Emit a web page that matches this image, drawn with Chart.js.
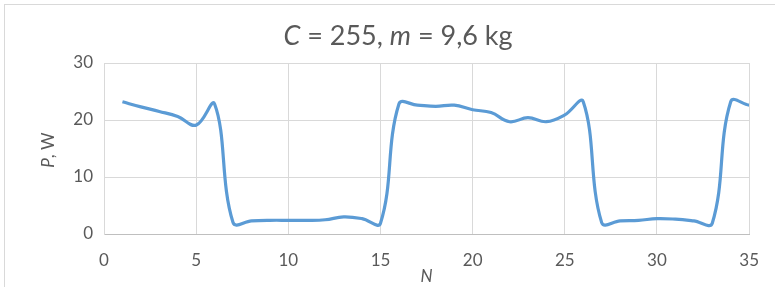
<!DOCTYPE html>
<html>
<head>
<meta charset="utf-8">
<script src="https://cdn.jsdelivr.net/npm/chart.js@4.4.0/dist/chart.umd.min.js"></script>
<style>
  html, body { margin: 0; padding: 0; background: #fff; }
  #wrap { width: 775px; height: 287px; position: relative; }
</style>
</head>
<body>
<div id="wrap"><canvas id="powerChart"></canvas></div>
<script>
// Données
const nValues = [1, 2, 3, 4, 5, 6, 7, 8, 9, 10, 11, 12, 13, 14, 15, 16, 17, 18, 19, 20,
    21, 22, 23, 24, 25, 26, 27, 28, 29, 30, 31, 32, 33, 34, 35];
const powerValues = [23.2, 22.3, 21.5, 20.6, 19.1, 22.8, 2.0, 2.3, 2.4, 2.4, 2.4, 2.5, 3.0, 2.7, 1.9,
    22.8, 22.6, 22.4, 22.6, 21.8, 21.3, 19.7, 20.4, 19.7, 20.9, 23.2, 2.0, 2.3, 2.4, 2.7,
    2.6, 2.3, 1.9, 23.2, 22.6];
const xTicks = [0, 5, 10, 15, 20, 25, 30, 35];
const yTicks = [0, 10, 20, 30];

const titleParts = [['C', true], [' = 255, ', false], ['m', true], [' = 9,6 kg', false]];
const yTitleParts = [['P', true], [', W', false]];

const textColor = '#595959';
const fontFamily = 'Lato, "Open Sans", sans-serif';

// dessine un texte en plusieurs morceaux (italique / normal)
function drawParts(ctx, parts, size, cx, cy) {
    const fonts = parts.map(p => (p[1] ? 'italic ' : '') + size + 'px ' + fontFamily);
    let total = 0;
    const widths = parts.map((p, i) => {
        ctx.font = fonts[i];
        const w = ctx.measureText(p[0]).width;
        total += w;
        return w;
    });
    let x = cx - total / 2;
    ctx.textBaseline = 'middle';
    ctx.textAlign = 'left';
    parts.forEach((p, i) => {
        ctx.font = fonts[i];
        ctx.fillText(p[0], x, cy);
        x += widths[i];
    });
}

const decorPlugin = {
    id: 'decor',
    afterDraw(chart) {
        const ctx = chart.ctx;
        ctx.save();
        ctx.strokeStyle = '#d9d9d9';
        ctx.lineWidth = 1;
        ctx.strokeRect(4.5, 4.5, 800, 300);
        ctx.fillStyle = textColor;
        drawParts(ctx, titleParts, 27, 398, 36);
        ctx.translate(49, 150);
        ctx.rotate(-Math.PI / 2);
        drawParts(ctx, yTitleParts, 17, 0, 0);
        ctx.restore();
    }
};

const ctx = document.getElementById('powerChart').getContext('2d');

const powerChart = new Chart(ctx, {
    type: 'line',
    data: {
        datasets: [{
            data: nValues.map((n, i) => ({ x: n, y: powerValues[i] })),
            borderColor: '#5b9bd5',
            borderWidth: 3.2,
            pointRadius: 0,
            tension: 0.4,
            fill: false
        }]
    },
    plugins: [decorPlugin],
    options: {
        responsive: true,
        maintainAspectRatio: false,
        animation: false,
        layout: {
            padding: { left: 0, right: 24, top: 63, bottom: 0 }
        },
        plugins: {
            legend: { display: false },
            tooltip: { enabled: false }
        },
        scales: {
            x: {
                type: 'linear',
                min: 0,
                max: 35,
                afterFit: (scale) => { scale.height = 53; },
                afterBuildTicks: (scale) => { scale.ticks = xTicks.map(v => ({ value: v })); },
                grid: { color: '#d9d9d9', lineWidth: 1, drawTicks: false },
                border: { color: '#bfbfbf', width: 1 },
                ticks: {
                    color: textColor,
                    padding: 16,
                    font: { family: fontFamily, size: 17 }
                },
                title: {
                    display: true,
                    text: 'N',
                    color: textColor,
                    padding: 0,
                    font: { family: fontFamily, size: 17, style: 'italic' }
                }
            },
            y: {
                min: 0,
                max: 30,
                afterFit: (scale) => { scale.width = 104; },
                afterBuildTicks: (scale) => { scale.ticks = yTicks.map(v => ({ value: v })); },
                grid: { color: '#d9d9d9', lineWidth: 1, drawTicks: false },
                border: { color: '#d9d9d9', width: 1 },
                ticks: {
                    color: textColor,
                    padding: 11,
                    font: { family: fontFamily, size: 17 }
                }
            }
        }
    }
});
</script>
</body>
</html>
